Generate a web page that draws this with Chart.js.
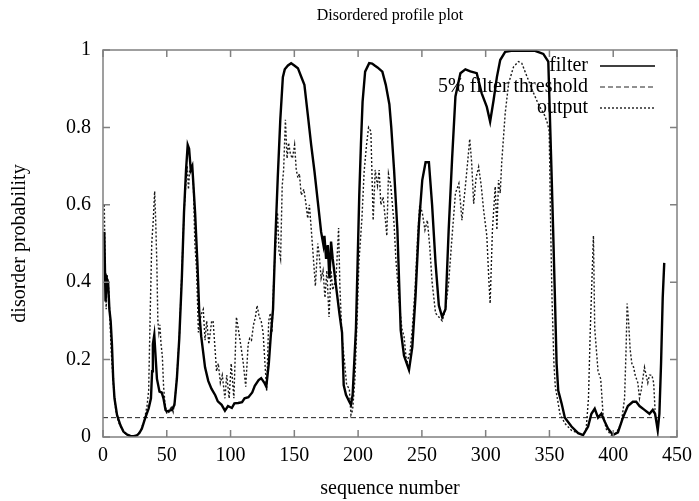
<!DOCTYPE html>
<html>
<head>
<meta charset="utf-8">
<script src="https://cdn.jsdelivr.net/npm/chart.js@4.4.0/dist/chart.umd.min.js"></script>
<style>
  html, body { margin: 0; padding: 0; background: #fff; }
  #graphique { display: block; }
</style>
</head>
<body>
<canvas id="graphique" width="699" height="501"></canvas>
<script>
// values (sequence number, probability)
const filterSeq = [1, 2, 3, 4, 5, 6, 7, 8, 9, 11, 13.6, 16, 19, 21.5, 24, 26.6, 28.5, 30.5, 33, 35.8, 37.6, 38.5, 39.1, 40.2, 41, 42.3, 44.3, 46, 47.4, 49, 50, 52, 54, 56, 57.9, 59.8, 61.8, 63.5, 65.1, 66.4, 67.5, 68.8, 70, 72.2, 74, 75.5, 77, 80, 82.5, 85, 88, 90, 93, 95.6, 98, 101, 103, 106, 109, 111, 114, 117, 119, 122, 124, 126.5, 128, 130, 131.5, 133.3, 135, 137, 139, 141, 142.5, 145, 147.5, 150, 152.8, 155.4, 157.9, 160.6, 163.2, 165.8, 168.4, 171, 172.8, 173.6, 174.9, 176.2, 177.5, 178.8, 180.1, 182.7, 185.3, 187.4, 188.7, 190.5, 193.1, 194.4, 195.7, 197, 198.3, 199.6, 200.9, 202.2, 203.5, 205.5, 208.7, 211, 213, 215.2, 219, 221.7, 224.5, 226, 228.2, 230.8, 233.4, 236, 239.9, 242.5, 245, 247.7, 250.3, 252.9, 255.5, 258, 260.7, 263.3, 265.9, 268.5, 271, 273.7, 276.3, 280.2, 284.1, 288, 293, 296.9, 300.9, 303.5, 306.2, 308.8, 311.4, 315.3, 320, 325.7, 332, 338.7, 345.2, 349.1, 351.5, 352.9, 354.3, 355.6, 356.9, 359.5, 362.1, 367.3, 372.5, 376.4, 380.3, 382.9, 385.5, 388.1, 390.7, 393.3, 395.9, 399.8, 403.7, 407.6, 411.5, 415.4, 418, 420.6, 424.5, 428.4, 431, 432.8, 434.1, 434.9, 436.2, 437.5, 438.8, 440];
const filterProb = [0.53, 0.35, 0.41, 0.40, 0.33, 0.30, 0.24, 0.15, 0.10, 0.057, 0.031, 0.014, 0.006, 0.003, 0.002, 0.004, 0.01, 0.022, 0.048, 0.074, 0.10, 0.17, 0.24, 0.264, 0.22, 0.15, 0.117, 0.115, 0.10, 0.07, 0.066, 0.068, 0.07, 0.083, 0.15, 0.255, 0.41, 0.58, 0.69, 0.755, 0.745, 0.69, 0.70, 0.58, 0.45, 0.32, 0.26, 0.18, 0.145, 0.125, 0.108, 0.092, 0.083, 0.068, 0.08, 0.075, 0.087, 0.088, 0.09, 0.10, 0.103, 0.115, 0.132, 0.147, 0.152, 0.14, 0.13, 0.19, 0.26, 0.33, 0.50, 0.67, 0.82, 0.93, 0.95, 0.96, 0.966, 0.96, 0.953, 0.931, 0.91, 0.832, 0.755, 0.686, 0.608, 0.53, 0.496, 0.52, 0.46, 0.496, 0.41, 0.505, 0.46, 0.39, 0.32, 0.27, 0.134, 0.109, 0.091, 0.083, 0.109, 0.195, 0.28, 0.45, 0.625, 0.755, 0.866, 0.944, 0.966, 0.965, 0.96, 0.955, 0.944, 0.91, 0.86, 0.80, 0.69, 0.535, 0.276, 0.21, 0.173, 0.233, 0.363, 0.55, 0.664, 0.71, 0.71, 0.60, 0.45, 0.34, 0.31, 0.33, 0.535, 0.72, 0.88, 0.94, 0.95, 0.945, 0.94, 0.888, 0.853, 0.815, 0.87, 0.93, 0.974, 0.995, 0.998, 0.998, 0.998, 0.998, 0.99, 0.97, 0.70, 0.535, 0.36, 0.19, 0.12, 0.087, 0.05, 0.027, 0.01, 0.005, 0.027, 0.06, 0.073, 0.05, 0.06, 0.04, 0.022, 0.005, 0.012, 0.05, 0.08, 0.091, 0.091, 0.08, 0.07, 0.06, 0.07, 0.06, 0.034, 0.017, 0.06, 0.19, 0.36, 0.45];

const thresholdSeq = [0, 440];
const thresholdProb = [0.05, 0.05];

const outputSeq = [1, 1.8, 2.5, 3.2, 4.5, 5.5, 6.5, 7.5, 8.5, 10, 12, 14, 17, 20, 24, 27, 30, 32.5, 34.5, 35.8, 37, 38.2, 39.4, 40.5, 41.3, 42.2, 43, 43.8, 44.6, 45.5, 46.5, 47.5, 48.5, 50, 52, 53.5, 55, 56.5, 58, 60, 62, 63.5, 65, 66, 67, 68, 69.5, 70.8, 72, 73.4, 74.8, 76, 77.3, 78.6, 80, 81.3, 83, 85.2, 86.3, 88, 89, 90.4, 92, 93.5, 95.6, 97, 98.9, 100.5, 102.6, 104.6, 106.5, 108.6, 110, 111.9, 113.8, 115, 116.4, 118, 119.5, 120.8, 122.5, 124, 125.5, 127, 128.3, 129.9, 131.2, 132.5, 133.9, 134.5, 135.5, 136.8, 138, 139.2, 140.5, 141.6, 143, 144.3, 145.5, 147, 148.5, 150.2, 151.5, 152.8, 154, 155.4, 157.5, 159.2, 160.5, 161.8, 163.2, 165.2, 166.5, 168.4, 169.5, 171, 172.5, 174, 175.5, 177.2, 178.8, 180.1, 182.7, 184.7, 185.7, 187.3, 189.2, 191, 193.1, 194.4, 195.7, 197.5, 199.4, 200.6, 203, 204.7, 206.6, 208.2, 210, 211.8, 213.4, 215.2, 216.5, 217.8, 219.6, 221.7, 222.5, 223.8, 225.6, 228.2, 229.6, 232.2, 234.3, 236, 238.1, 240.7, 242.5, 244.6, 246.7, 248.3, 250.3, 252.4, 254.3, 256.2, 258, 260.7, 263.3, 265.9, 268.5, 271, 273.7, 276.3, 279, 281.4, 284, 286, 287.5, 289, 290.6, 292.5, 294.5, 296.5, 298.4, 300.9, 302.5, 303.5, 305.3, 307.5, 308.8, 310.1, 311.4, 312.6, 315.3, 318, 321.8, 325.7, 328.3, 330.9, 333.5, 336.1, 338.7, 341.3, 343.8, 346.4, 348.5, 349.8, 351, 352, 353.5, 354.6, 356.2, 358.2, 362.1, 367.3, 372.5, 376.4, 378.7, 380.6, 382, 383.3, 384.5, 385.5, 388.1, 390.2, 392, 394.6, 398.5, 402.4, 406.3, 408.9, 410.1, 410.9, 412, 413.3, 414.6, 416, 417.2, 419.3, 420.6, 421.9, 424.5, 425.8, 427.1, 428.4, 430.3, 431.7, 432.8];
const outputProb = [0.60, 0.42, 0.33, 0.42, 0.38, 0.30, 0.22, 0.17, 0.12, 0.07, 0.04, 0.025, 0.01, 0.004, 0.003, 0.005, 0.02, 0.045, 0.08, 0.12, 0.32, 0.50, 0.56, 0.635, 0.56, 0.45, 0.30, 0.27, 0.29, 0.24, 0.21, 0.13, 0.09, 0.06, 0.065, 0.08, 0.065, 0.10, 0.16, 0.27, 0.44, 0.58, 0.66, 0.70, 0.64, 0.69, 0.70, 0.66, 0.50, 0.43, 0.27, 0.30, 0.32, 0.33, 0.25, 0.30, 0.24, 0.30, 0.30, 0.22, 0.17, 0.19, 0.14, 0.16, 0.10, 0.16, 0.10, 0.19, 0.10, 0.31, 0.27, 0.224, 0.19, 0.13, 0.24, 0.255, 0.25, 0.29, 0.31, 0.34, 0.31, 0.30, 0.27, 0.19, 0.12, 0.30, 0.32, 0.27, 0.41, 0.45, 0.50, 0.58, 0.48, 0.46, 0.65, 0.69, 0.82, 0.72, 0.76, 0.73, 0.72, 0.755, 0.69, 0.67, 0.68, 0.625, 0.64, 0.60, 0.565, 0.60, 0.54, 0.45, 0.39, 0.50, 0.47, 0.41, 0.43, 0.36, 0.43, 0.31, 0.43, 0.38, 0.41, 0.54, 0.39, 0.26, 0.20, 0.134, 0.125, 0.057, 0.07, 0.15, 0.32, 0.45, 0.565, 0.685, 0.755, 0.80, 0.79, 0.56, 0.69, 0.65, 0.69, 0.60, 0.62, 0.55, 0.52, 0.68, 0.65, 0.55, 0.46, 0.35, 0.28, 0.26, 0.19, 0.22, 0.28, 0.38, 0.52, 0.60, 0.58, 0.535, 0.56, 0.49, 0.40, 0.32, 0.31, 0.30, 0.33, 0.40, 0.52, 0.63, 0.655, 0.56, 0.645, 0.715, 0.77, 0.71, 0.603, 0.67, 0.698, 0.65, 0.586, 0.52, 0.405, 0.345, 0.535, 0.647, 0.535, 0.664, 0.63, 0.71, 0.836, 0.914, 0.956, 0.97, 0.966, 0.944, 0.922, 0.90, 0.88, 0.86, 0.845, 0.83, 0.81, 0.79, 0.535, 0.36, 0.19, 0.13, 0.10, 0.06, 0.035, 0.017, 0.01, 0.005, 0.017, 0.10, 0.275, 0.405, 0.52, 0.28, 0.17, 0.15, 0.06, 0.02, 0.005, 0.01, 0.035, 0.10, 0.23, 0.345, 0.30, 0.225, 0.19, 0.18, 0.16, 0.14, 0.10, 0.12, 0.18, 0.16, 0.14, 0.16, 0.16, 0.14, 0.07];

const xTicks = [0, 50, 100, 150, 200, 250, 300, 350, 400, 450];
const yTicks = [0, 0.2, 0.4, 0.6, 0.8, 1];

const serif = "'Liberation Serif', 'DejaVu Serif', serif";

function pairs(xs, ys) {
  return xs.map((x, i) => ({ x: x, y: ys[i] }));
}

// gray box with inner tick marks on all four sides
const framePlugin = {
  id: 'frame',
  afterDraw(chart) {
    const { ctx, chartArea: a, scales } = chart;
    ctx.save();
    ctx.strokeStyle = '#808080';
    ctx.lineWidth = 1.5;
    ctx.setLineDash([]);
    ctx.strokeRect(a.left, a.top, a.right - a.left, a.bottom - a.top);
    ctx.beginPath();
    xTicks.forEach(v => {
      const px = scales.x.getPixelForValue(v);
      ctx.moveTo(px, a.bottom); ctx.lineTo(px, a.bottom - 7);
      ctx.moveTo(px, a.top); ctx.lineTo(px, a.top + 7);
    });
    yTicks.forEach(v => {
      const py = scales.y.getPixelForValue(v);
      ctx.moveTo(a.left, py); ctx.lineTo(a.left + 7, py);
      ctx.moveTo(a.right, py); ctx.lineTo(a.right - 7, py);
    });
    ctx.stroke();
    ctx.restore();
  }
};

// gnuplot style key: text right aligned, line sample on the right
const keyPlugin = {
  id: 'key',
  afterDraw(chart) {
    const { ctx } = chart;
    ctx.save();
    ctx.font = '20px ' + serif;
    ctx.fillStyle = '#000';
    ctx.textAlign = 'right';
    ctx.textBaseline = 'middle';
    chart.data.datasets.forEach((ds, i) => {
      const y = 66 + i * 21;
      ctx.fillText(ds.label, 588, y);
      ctx.strokeStyle = ds.borderColor;
      ctx.lineWidth = Math.min(ds.borderWidth, 1.5);
      ctx.setLineDash(ds.borderDash || []);
      ctx.beginPath();
      ctx.moveTo(600, y);
      ctx.lineTo(655, y);
      ctx.stroke();
    });
    ctx.restore();
  }
};

const ctx = document.getElementById("graphique").getContext("2d");
new Chart(ctx, {
  type: "line",
  data: {
    datasets: [{
      label: "filter",
      data: pairs(filterSeq, filterProb),
      borderColor: "#000",
      borderWidth: 2.4,
      pointRadius: 0,
      tension: 0
    }, {
      label: "5% filter threshold",
      data: pairs(thresholdSeq, thresholdProb),
      borderColor: "#222",
      borderWidth: 1,
      borderDash: [5, 3],
      pointRadius: 0,
      tension: 0
    }, {
      label: "output",
      data: pairs(outputSeq, outputProb),
      borderColor: "#1a1a1a",
      borderWidth: 1.4,
      borderDash: [2, 2],
      pointRadius: 0,
      tension: 0
    }]
  },
  options: {
    responsive: false,
    animation: false,
    layout: { padding: { left: 0, right: 20, top: 0, bottom: 0 } },
    plugins: {
      legend: { display: false },
      tooltip: { enabled: false },
      title: {
        display: true,
        fullSize: false,
        text: "Disordered profile plot",
        color: "#000",
        font: { family: serif, size: 16, weight: "normal" },
        padding: { top: 6, bottom: 24.8 }
      }
    },
    scales: {
      x: {
        type: "linear",
        min: 0,
        max: 450,
        afterBuildTicks(s) { s.ticks = xTicks.map(v => ({ value: v })); },
        afterFit(s) { s.height = 64; },
        ticks: { color: "#000", font: { family: serif, size: 20 }, padding: 7, maxRotation: 0 },
        grid: { display: false, drawTicks: false },
        border: { display: false },
        title: {
          display: true,
          text: "sequence number",
          color: "#000",
          font: { family: serif, size: 20 },
          padding: { top: 0, bottom: 0 }
        }
      },
      y: {
        min: 0,
        max: 1,
        afterBuildTicks(s) { s.ticks = yTicks.map(v => ({ value: v })); },
        afterFit(s) { s.width = 103; },
        ticks: {
          color: "#000",
          font: { family: serif, size: 20 },
          padding: 12,
          callback: v => String(Math.round(v * 10) / 10)
        },
        grid: { display: false, drawTicks: false },
        border: { display: false },
        title: {
          display: true,
          text: "disorder probability",
          color: "#000",
          font: { family: serif, size: 20 },
          padding: { top: 8, bottom: 0 }
        }
      }
    }
  },
  plugins: [framePlugin, keyPlugin]
});
</script>
</body>
</html>
